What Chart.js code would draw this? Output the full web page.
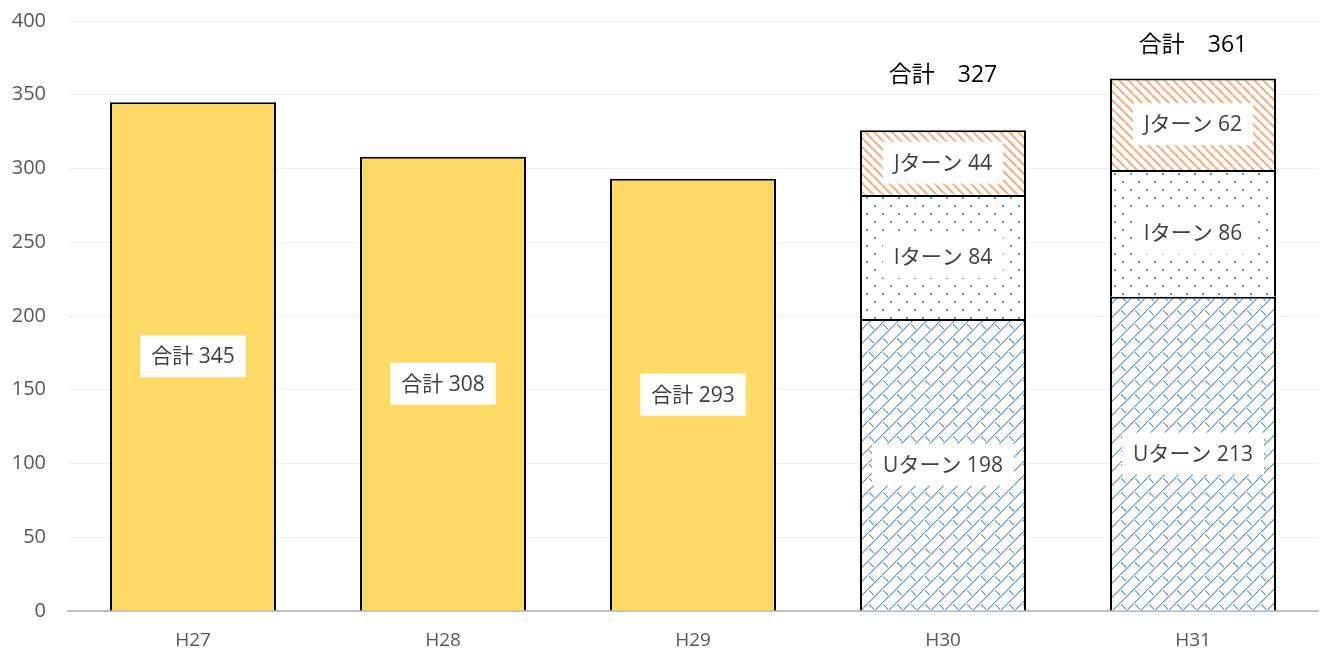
<!DOCTYPE html>
<html lang="ja">
<head>
    <meta charset="UTF-8">
    <title>U・I・Jターン</title>
    <style>
        body { margin: 0; background: #fff; }
        #wrap { width: 1323px; height: 655px; overflow: hidden; position: relative; }
        #chart { position: absolute; left: 0; top: -13px; }
    </style>
</head>
<body>
    <div id="wrap"><canvas id="chart" width="1323" height="668"></canvas></div>
    <script src="https://cdn.jsdelivr.net/npm/chart.js"></script>
    <script>
        const years = ['H27', 'H28', 'H29', 'H30', 'H31'];
        const totalOnly = [345, 308, 293, null, null];
        const uTurn = [null, null, null, 198, 213];
        const iTurn = [null, null, null, 84, 86];
        const jTurn = [null, null, null, 44, 62];
        const stackTotals = [null, null, null, 327, 361];
        const yTicks = [0, 50, 100, 150, 200, 250, 300, 350, 400];

        const FONT = '"Open Sans", "Noto Sans CJK JP", sans-serif';

        function makePattern(size, draw) {
            const c = document.createElement('canvas');
            c.width = size; c.height = size;
            const g = c.getContext('2d');
            g.fillStyle = '#fff';
            g.fillRect(0, 0, size, size);
            draw(g);
            return c.getContext('2d').createPattern(c, 'repeat');
        }

        // shingle pattern for Uターン
        const uPattern = makePattern(14, g => {
            g.fillStyle = '#5B9BD5';
            for (let i = 0; i < 14; i++) {
                g.fillRect(i, 13 - i, 1, 1.5);
            }
            for (let i = 0; i < 5; i++) {
                g.fillRect(1 + i, 1 + i, 1, 1.5);
            }
        });
        // dots for Iターン
        const iPattern = makePattern(16, g => {
            g.fillStyle = '#5B9BD5';
            g.fillRect(2, 2, 2, 2);
            g.fillRect(10, 10, 2, 2);
        });
        // stripes for Jターン
        const jPattern = makePattern(9, g => {
            g.strokeStyle = '#F4B183';
            g.lineWidth = 2.2;
            for (let o = -9; o <= 9; o += 9) {
                g.beginPath();
                g.moveTo(o, 0);
                g.lineTo(o + 9, 9);
                g.stroke();
            }
        });

        // value labels inside segments with white boxes, and totals on top
        const labelPlugin = {
            id: 'segLabels',
            afterDatasetsDraw(chart) {
                const ctx = chart.ctx;
                ctx.save();
                ctx.font = '21px ' + FONT;
                ctx.textAlign = 'center';
                ctx.textBaseline = 'middle';
                chart.data.datasets.forEach((ds, di) => {
                    const meta = chart.getDatasetMeta(di);
                    meta.data.forEach((bar, i) => {
                        const v = ds.data[i];
                        if (v == null) return;
                        const text = ds.label + ' ' + v;
                        const w = ctx.measureText(text).width;
                        const cy = (bar.y + bar.base) / 2;
                        ctx.fillStyle = '#fff';
                        ctx.fillRect(bar.x - w / 2 - 11, cy - 21, w + 22, 42);
                        ctx.fillStyle = '#404040';
                        ctx.fillText(text, bar.x, cy + 1);
                    });
                });
                const y = chart.scales.y;
                const offsets = [0, 0, 0, 53, 33];
                ctx.font = '23px ' + FONT;
                ctx.fillStyle = '#000';
                stackTotals.forEach((t, i) => {
                    if (t == null) return;
                    const bar = chart.getDatasetMeta(0).data[i];
                    ctx.fillText('合計　' + t, bar.x, y.getPixelForValue(t) - offsets[i]);
                });
                ctx.restore();
            }
        };

        const common = { borderColor: '#000', borderSkipped: false,
                         borderWidth: { top: 2, left: 2, right: 2, bottom: 0 },
                         categoryPercentage: 1, barPercentage: 0.664 };

        new Chart(document.getElementById('chart'), {
            type: 'bar',
            data: {
                labels: years,
                datasets: [
                    Object.assign({ label: '合計', data: totalOnly, backgroundColor: '#FFD966' }, common),
                    Object.assign({ label: 'Uターン', data: uTurn, backgroundColor: uPattern }, common),
                    Object.assign({ label: 'Iターン', data: iTurn, backgroundColor: iPattern }, common),
                    Object.assign({ label: 'Jターン', data: jTurn, backgroundColor: jPattern }, common)
                ]
            },
            options: {
                responsive: false,
                animation: false,
                layout: { padding: { top: 0, right: 5, left: 0, bottom: 0 } },
                plugins: { legend: { display: false }, tooltip: { enabled: false } },
                scales: {
                    x: {
                        stacked: true,
                        grid: { display: false },
                        border: { color: '#BFBFBF', width: 2 },
                        ticks: { color: '#595959', font: { size: 19, family: FONT }, padding: 10 },
                        afterFit: s => { s.height = 44; }
                    },
                    y: {
                        stacked: true,
                        min: 0, max: 400,
                        afterBuildTicks: s => { s.ticks = yTicks.map(v => ({ value: v })); },
                        grid: { color: '#EDEDED', lineWidth: 1, drawTicks: false },
                        border: { display: false },
                        ticks: { color: '#595959', font: { size: 20, family: FONT }, padding: 22 },
                        afterFit: s => { s.width = 68; }
                    }
                }
            },
            plugins: [labelPlugin]
        });
    </script>
</body>
</html>
